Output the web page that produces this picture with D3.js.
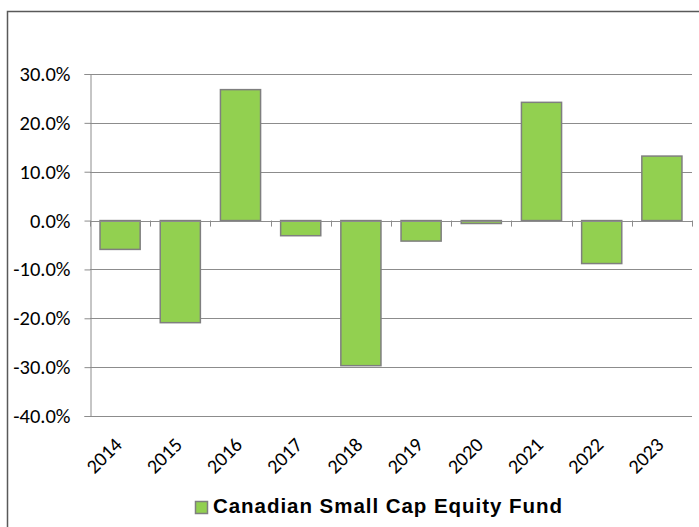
<!DOCTYPE html>
<html>
<head>
<meta charset="utf-8">
<script src="https://cdn.jsdelivr.net/npm/d3@7"></script>
<style>
  body { margin: 0; background: #fff; }
  svg { display: block; }
</style>
</head>
<body>
<div id="chart"></div>
<script>
// data
const years = ["2014", "2015", "2016", "2017", "2018", "2019", "2020", "2021", "2022", "2023"];
const returns = [-5.9, -20.9, 26.8, -3.1, -29.7, -4.2, -0.6, 24.2, -8.8, 13.2];
const yTicks = [-40, -30, -20, -10, 0, 10, 20, 30];
const seriesName = "Canadian Small Cap Equity Fund";

const width = 699, height = 527;
const margin = { top: 74, right: 7, bottom: 111, left: 90 };
const labelFont = "Carlito, Lato, 'Open Sans', sans-serif";

const svg = d3.select("#chart")
    .append("svg")
    .attr("width", width)
    .attr("height", height);

// outer chart frame
svg.append("rect")
    .attr("x", 7.5)
    .attr("y", 11.5)
    .attr("width", 700)
    .attr("height", 600)
    .attr("fill", "#fff")
    .attr("stroke", "#595959")
    .attr("stroke-width", 1.5);

const x = d3.scaleBand()
    .domain(years)
    .range([margin.left, width - margin.right])
    .paddingInner(1 / 3)
    .paddingOuter(1 / 6);

const y = d3.scaleLinear()
    .domain([-40, 30])
    .range([height - margin.bottom, margin.top]);

const fmt = d => d.toFixed(1) + "%";

// gridlines
svg.append("g")
    .selectAll("line")
    .data(yTicks)
    .enter().append("line")
    .attr("x1", margin.left)
    .attr("x2", width - margin.right)
    .attr("y1", d => Math.round(y(d)) + 0.5)
    .attr("y2", d => Math.round(y(d)) + 0.5)
    .attr("stroke", "#8c8c8c")
    .attr("stroke-width", 1);

// y axis
const yAxis = svg.append("g")
    .attr("transform", `translate(${margin.left + 0.5},0)`)
    .call(d3.axisLeft(y).tickValues(yTicks).tickFormat(fmt).tickSize(6).tickPadding(14));
yAxis.select(".domain").attr("stroke", "#8c8c8c");
yAxis.selectAll(".tick line").attr("stroke", "#8c8c8c");
yAxis.selectAll("text")
    .attr("fill", "#000")
    .style("font-family", labelFont)
    .style("font-size", "20.5px");

// bars
svg.append("g")
    .selectAll("rect")
    .data(years)
    .enter().append("rect")
    .attr("x", d => x(d))
    .attr("y", (d, i) => y(Math.max(0, returns[i])))
    .attr("width", x.bandwidth())
    .attr("height", (d, i) => Math.abs(y(returns[i]) - y(0)))
    .attr("fill", "#92d050")
    .attr("stroke", "#7f7f7f")
    .attr("stroke-width", 1.5);

// zero axis with category ticks between bars
const step = x.step();
const bounds = d3.range(years.length + 1).map(i => margin.left + i * step);
svg.append("line")
    .attr("x1", margin.left)
    .attr("x2", width - margin.right)
    .attr("y1", Math.round(y(0)) + 0.5)
    .attr("y2", Math.round(y(0)) + 0.5)
    .attr("stroke", "#8c8c8c");
svg.append("g")
    .selectAll("line")
    .data(bounds)
    .enter().append("line")
    .attr("x1", d => Math.round(d) + 0.5)
    .attr("x2", d => Math.round(d) + 0.5)
    .attr("y1", y(0))
    .attr("y2", y(0) + 6)
    .attr("stroke", "#8c8c8c");

// rotated year labels
svg.append("g")
    .selectAll("text")
    .data(years)
    .enter().append("text")
    .attr("transform", d => `translate(${x(d) + x.bandwidth() / 2 + 3},${y(-40) + 30}) rotate(-45)`)
    .attr("text-anchor", "end")
    .style("font-family", labelFont)
    .style("font-size", "20px")
    .text(d => d);

// legend
const legend = svg.append("g");
legend.append("rect")
    .attr("x", 195.5)
    .attr("y", 501.5)
    .attr("width", 12)
    .attr("height", 12)
    .attr("fill", "#92d050")
    .attr("stroke", "#7f7f7f")
    .attr("stroke-width", 1.5);
legend.append("text")
    .attr("x", 213)
    .attr("y", 513)
    .attr("textLength", 349)
    .attr("lengthAdjust", "spacing")
    .style("font-family", "'Liberation Sans', Arial, sans-serif")
    .style("font-weight", "bold")
    .style("font-size", "20.5px")
    .text(seriesName);
</script>
</body>
</html>
